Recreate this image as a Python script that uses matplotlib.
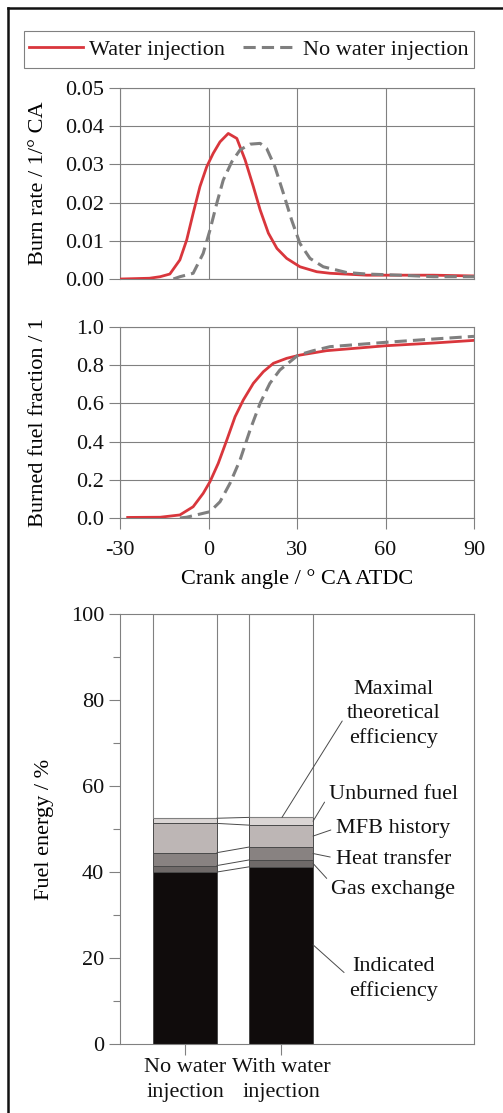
"""
Water injection vs. no water injection: burn rate, MFB and fuel energy split
"""

import matplotlib
matplotlib.use("Agg")
import matplotlib.pyplot as plt
from matplotlib.lines import Line2D
from matplotlib.patches import Rectangle
import numpy as np

# ── data ──
# burn rate [1/°CA] over crank angle [°CA ATDC]
br_wi_x = [-29.8, -20.0, -16.4, -13.1, -9.7, -7.4, -5.2, -2.9, -0.6, 1.6, 3.9,
           6.7, 9.6, 12.4, 15.2, 17.5, 20.3, 23.2, 26.5, 31.0, 36.7, 41.2,
           53.6, 64.9, 76.2, 90.0]
br_wi_y = [0.0, 0.0002, 0.0006, 0.0013, 0.005, 0.0102, 0.0172, 0.0242, 0.0294,
           0.0329, 0.0359, 0.0381, 0.0368, 0.0312, 0.0242, 0.0181, 0.012,
           0.008, 0.0054, 0.0032, 0.0019, 0.0015, 0.001, 0.001, 0.001, 0.0008]
br_nw_x = [-11.9, -9.7, -5.2, -1.8, 0.5, 2.8, 5.0, 7.9, 10.7, 14.1, 17.5, 19.7,
           22.5, 25.4, 28.2, 31.0, 34.4, 38.9, 46.8, 53.6, 64.9, 76.2, 90.0]
br_nw_y = [0.0, 0.0006, 0.0015, 0.0067, 0.0128, 0.0198, 0.0259, 0.0307, 0.0338,
           0.0353, 0.0355, 0.0342, 0.0294, 0.0224, 0.0154, 0.0093, 0.0054,
           0.0032, 0.0017, 0.0013, 0.001, 0.0006, 0.0006]

# burned fuel fraction [-]
mfb_wi_x = [-27.4, -16.4, -9.7, -5.2, -1.8, 0.5, 3.3, 6.2, 9.0, 11.8, 15.2, 18.6,
            22.0, 26.5, 31.0, 40.0, 60.2, 76.2, 90.0]
mfb_wi_y = [0.003, 0.004, 0.016, 0.059, 0.129, 0.19, 0.286, 0.408, 0.53, 0.618,
            0.705, 0.766, 0.81, 0.836, 0.853, 0.876, 0.902, 0.916, 0.93]
mfb_nw_x = [-9.7, -7.4, 0.5, 3.9, 7.3, 10.7, 14.1, 17.5, 20.8, 24.2, 27.6, 30.4,
            35.5, 41.2, 60.2, 76.2, 90.0]
mfb_nw_y = [0.0, 0.004, 0.033, 0.085, 0.182, 0.304, 0.461, 0.601, 0.705, 0.775,
            0.818, 0.853, 0.876, 0.897, 0.92, 0.937, 0.951]

# fuel energy split [%]
cases = ["No water\ninjection", "With water\ninjection"]
seg_names = ["Indicated\nefficiency", "Gas exchange", "Heat transfer",
             "MFB history", "Unburned fuel"]
indicated = [40.0, 41.2]
gas_exchange = [1.5, 1.6]
heat_transfer = [3.0, 3.0]
mfb_history = [6.8, 5.1]
unburned = [1.2, 1.8]

RED = '#d9363c'
GRAY = '#7f7f7f'
GRID = '#808080'
SERIF = ['Liberation Serif', 'DejaVu Serif']
FS = 16

plt.rcParams['font.family'] = SERIF
plt.rcParams['font.size'] = FS
plt.rcParams['axes.unicode_minus'] = False
plt.rcParams['text.color'] = '#111111'
plt.rcParams['xtick.color'] = GRID
plt.rcParams['ytick.color'] = GRID
plt.rcParams['xtick.labelcolor'] = '#111111'
plt.rcParams['ytick.labelcolor'] = '#111111'

fig = plt.figure(figsize=(5.03, 11.13), dpi=100)
W, H = 503.0, 1113.0


def px_axes(l, t, r, b):
    return fig.add_axes([l / W, 1 - b / H, (r - l) / W, (b - t) / H])


def style_axes(ax):
    for s in ax.spines.values():
        s.set_color(GRID)
        s.set_linewidth(0.8)
    ax.tick_params(length=8, width=0.8, pad=3.5, labelsize=FS)


# ── burn rate ──
ax1 = px_axes(120, 88, 474, 279)
ax1.plot(br_wi_x, br_wi_y, color=RED, lw=2.0, label='Water injection', zorder=3)
ax1.plot(br_nw_x, br_nw_y, color=GRAY, lw=2.2, ls=(0, (4, 2)),
         label='No water injection', zorder=3)
ax1.set_xlim(-30, 90)
ax1.set_ylim(0, 0.05)
ax1.set_xticks([-30, 0, 30, 60, 90])
ax1.set_yticks(np.arange(0, 0.051, 0.01))
ax1.yaxis.set_major_formatter(plt.FormatStrFormatter('%.2f'))
ax1.grid(True, color=GRID, lw=0.8)
style_axes(ax1)
ax1.tick_params(axis='x', length=0, labelbottom=False)
ax1.set_ylabel('Burn rate / 1/° CA')
ax1.yaxis.set_label_coords(-0.203, 0.5)

# ── burned fuel fraction ──
ax2 = px_axes(120, 327, 474, 518)
ax2.plot(mfb_wi_x, mfb_wi_y, color=RED, lw=2.0, zorder=3)
ax2.plot(mfb_nw_x, mfb_nw_y, color=GRAY, lw=2.2, ls=(0, (4, 2)), zorder=3)
ax2.set_xlim(-30, 90)
ax2.set_ylim(0, 1.0)
ax2.set_xticks([-30, 0, 30, 60, 90])
ax2.set_yticks(np.arange(0, 1.01, 0.2))
ax2.yaxis.set_major_formatter(plt.FormatStrFormatter('%.1f'))
ax2.grid(True, color=GRID, lw=0.8)
style_axes(ax2)
ax2.tick_params(axis='x', pad=8.3)
ax2.set_ylabel('Burned fuel fraction / 1')
ax2.yaxis.set_label_coords(-0.203, 0.5)
ax2.set_xlabel('Crank angle / ° CA ATDC', labelpad=6.5)

# legend with square frame
fig.patches.append(Rectangle((24 / W, 1 - 68 / H), 450 / W, 37 / H,
                             transform=fig.transFigure, fill=False,
                             edgecolor=GRID, lw=0.8))
h, lab = ax1.get_legend_handles_labels()
fig.legend(h, lab, loc='center', bbox_to_anchor=(249 / W, 1 - 49.5 / H),
           ncol=2, frameon=False, handlelength=2.4, handletextpad=0.3,
           columnspacing=0.8, fontsize=FS, borderaxespad=0)

# ── fuel energy stacked bars ──
ax3 = px_axes(120, 614, 474, 1044)
xpos = np.arange(len(cases))
bw = 0.667
segs = [indicated, gas_exchange, heat_transfer, mfb_history, unburned]
colors = ['#100c0c', '#6f6a69', '#888281', '#bdb6b5', '#dad5d4']
bottom = np.zeros(len(cases))
tops = []
for vals, c in zip(segs, colors):
    vals = np.array(vals)
    ax3.bar(xpos, vals, bw, bottom=bottom, color=c, edgecolor='#4a4a4a',
            lw=0.7, zorder=2)
    bottom = bottom + vals
    tops.append(bottom.copy())
ax3.bar(xpos, 100 - bottom, bw, bottom=bottom, color='white',
        edgecolor=GRID, lw=0.8, zorder=2)
# connectors between bars
for t in tops:
    ax3.plot([xpos[0] + bw / 2, xpos[1] - bw / 2], [t[0], t[1]],
             color='#4a4a4a', lw=0.7, zorder=2)

ax3.set_xlim(-0.677, 3.01)
ax3.set_ylim(0, 100)
ax3.set_yticks(np.arange(0, 101, 20))
ax3.set_yticks(np.arange(10, 100, 20), minor=True)
ax3.set_xticks(xpos)
ax3.set_xticklabels(cases, linespacing=1.42)
style_axes(ax3)
ax3.tick_params(axis='y', which='minor', length=5, width=0.8)
ax3.tick_params(axis='x', length=8, pad=2)
ax3.set_ylabel('Fuel energy / %')
ax3.yaxis.set_label_coords(-0.186, 0.5)

# labels with leader lines at the right bar
xr = xpos[1] + bw / 2
cum = np.array(tops)[:, 1]
lo = np.concatenate([[0], cum[:-1]])
mids = (lo + cum) / 2
tx = 2.17
lp = dict(arrowstyle='-', color='#4a4a4a', lw=0.7, shrinkA=2, shrinkB=0)
ax3.annotate('Maximal\ntheoretical\nefficiency', xy=(xpos[1] + 0.01, cum[-1]),
             xytext=(tx, 76.7), ha='center', va='center', linespacing=1.34,
             arrowprops=dict(lp, relpos=(0, 0.5)), zorder=4)
ax3.annotate(seg_names[4], xy=(xr, mids[4]), xytext=(tx, 58.1),
             ha='center', va='center', arrowprops=dict(lp, relpos=(0, 0.45)))
ax3.annotate(seg_names[3], xy=(xr, mids[3]), xytext=(tx, 50.2),
             ha='center', va='center', arrowprops=dict(lp, relpos=(0, 0.5)))
ax3.annotate(seg_names[2], xy=(xr, mids[2]), xytext=(tx, 43.0),
             ha='center', va='center', arrowprops=dict(lp, relpos=(0, 0.55)))
ax3.annotate(seg_names[1], xy=(xr, mids[1]), xytext=(tx, 36.0),
             ha='center', va='center', arrowprops=dict(lp, relpos=(0, 0.8)))
ax3.annotate(seg_names[0], xy=(xr, indicated[1] * 0.56), xytext=(tx, 15.1),
             ha='center', va='center', linespacing=1.37,
             arrowprops=dict(lp, relpos=(0, 0.55)))

# frame edges (top and left visible)
fig.lines.append(Line2D([7.5 / W, 1], [1 - 7.5 / H, 1 - 7.5 / H],
                        transform=fig.transFigure, color='#111111', lw=1.8))
fig.lines.append(Line2D([7.5 / W, 7.5 / W], [0, 1 - 7.5 / H],
                        transform=fig.transFigure, color='#111111', lw=1.8))

fig.savefig('out.png', dpi=100)
